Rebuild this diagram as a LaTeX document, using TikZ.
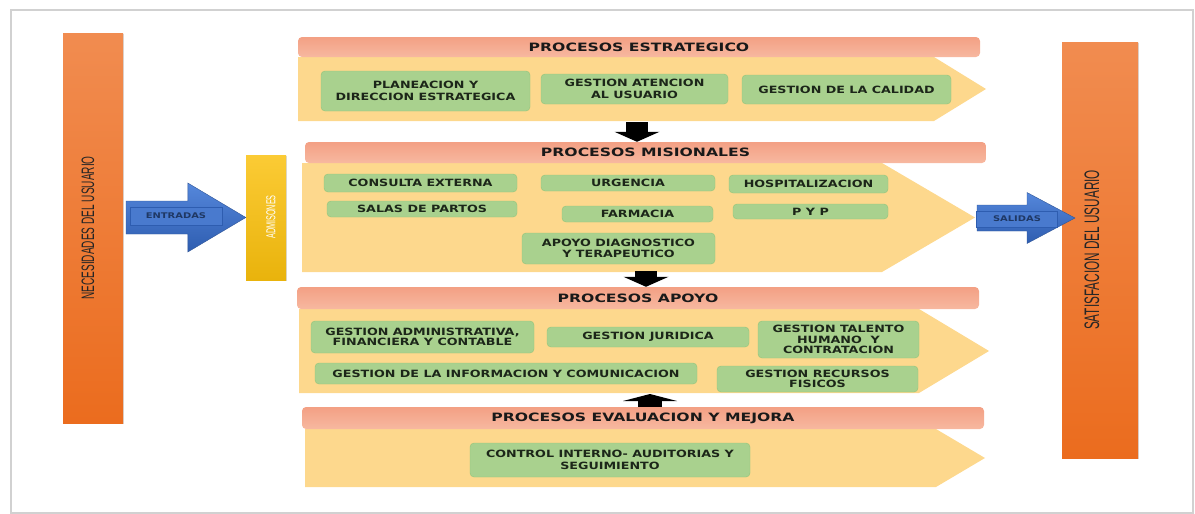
\documentclass[tikz,border=0pt]{standalone}
\usepackage{fontspec}
\usetikzlibrary{calc,arrows.meta,shadows}
\newfontfamily\cajafont{DejaVu Sans}[FakeStretch=1.27]
\newfontfamily\cabfont{DejaVu Sans}[FakeStretch=1.36]
\newfontfamily\barrafont{Liberation Sans}[FakeStretch=0.56]
\definecolor{verde}{HTML}{A9D18E}
\definecolor{verdeborde}{HTML}{93C47A}
\definecolor{textoverde}{HTML}{1C2619}
\definecolor{amarillo}{HTML}{FDD88D}
\definecolor{salmonA}{HTML}{F3A084}
\definecolor{salmonB}{HTML}{F7B8A0}
\definecolor{naranjaA}{HTML}{F18C50}
\definecolor{naranjaB}{HTML}{EB6C1E}
\definecolor{oroA}{HTML}{FBCB35}
\definecolor{oroB}{HTML}{E9B30C}
\definecolor{azulA}{HTML}{5587DB}
\definecolor{azulB}{HTML}{2E5DB0}
\definecolor{azulborde}{HTML}{2F5597}
\definecolor{azultexto}{HTML}{1F3864}
\def\bloque[#1](#2)(#3,#4)(#5,#6)#7{\node[#1, minimum width={(#5-#3)*1pt}, minimum height={(#6-#4)*1pt}] (#2) at ({(#3+#5)/2},{(#4+#6)/2}) {#7};}
\def\cuerpo(#1,#2)(#3,#4)(#5){\fill[amarillo] (#1,#2) -- (#3,#2) -- (#5,{(#2+#4)/2}) -- (#3,#4) -- (#1,#4) -- cycle;}
\def\flechaazul(#1)(#2)#3#4#5{\shade[flechabloque] let \p1=(#1), \p2=(#2) in (\x1,{\y2+#3}) -- ({\x2-#5},{\y2+#3}) -- ({\x2-#5},{\y2+#4}) -- (\x2,\y2) -- ({\x2-#5},{\y2-#4}) -- ({\x2-#5},{\y2-#3}) -- (\x1,{\y2-#3}) -- cycle;}
\tikzset{
	caja/.style={draw=verdeborde, fill=verde, rounded corners=4pt, inner sep=1pt, align=center, text=textoverde, font=\cajafont\bfseries\fontsize{10}{10.5}\selectfont},
	interlinea/.style={font=\cajafont\bfseries\fontsize{10}{12.5}\selectfont},
	cabecera/.style={rounded corners=4pt, top color=salmonA, bottom color=salmonB, inner sep=0pt, text=black!90, font=\cabfont\bfseries\fontsize{11.5}{12}\selectfont},
	barra/.style={top color=naranjaA, bottom color=naranjaB, inner sep=0pt, drop shadow={shadow xshift=1.2pt, shadow yshift=-1.2pt, opacity=0.3}},
	barraoro/.style={top color=oroA, bottom color=oroB, inner sep=0pt, drop shadow={shadow xshift=1.2pt, shadow yshift=-1.2pt, opacity=0.3}},
	textobarra/.style={inner sep=0pt, text=black!85, font=\barrafont\fontsize{18}{19}\selectfont},
	flechabloque/.style={top color=azulA, bottom color=azulB, draw=azulborde, line width=0.4pt},
	etiqueta/.style={fill=azulA!70!azulB, draw=azulB, line width=0.4pt, inner sep=0pt, text=azultexto, font=\cajafont\bfseries\fontsize{7.8}{8}\selectfont},
	negra/.style={black, line width=22pt, -{Triangle[width=45pt, length=10pt, line width=0pt]}},
	marco/.style={draw=black!18, line width=1.5pt}
}
\begin{document}
\begin{tikzpicture}[x=1pt, y=-1pt]
			%%%%% START %%%%%
			\useasboundingbox (0,0) rectangle (1195,514);
			\draw[marco] (11,10) rectangle (1193,513);
			
			\bloque[barra](nec)(63,33)(123,423){}
			\node[textobarra, rotate=90] (necT) at (88,228) {NECESIDADES DEL USUARIO};
			\bloque[barra](sat)(1062,42)(1138,458){}
			\node[textobarra, rotate=90, font=\barrafont\fontsize{21}{22}\selectfont] (satT) at (1092,250) {SATISFACION DEL USUARIO};
			\bloque[barraoro](adm)(246,155)(286,280){}
			\node[textobarra, rotate=90, text=white, font=\barrafont\fontsize{13}{14}\selectfont] (admT) at (271,217) {ADMISONES};
			
			\cuerpo(298,57)(934,121)(986)
			\cuerpo(302,163)(882,272)(975)
			\cuerpo(299,309)(919,393)(989)
			\cuerpo(305,429)(936,487)(985)
			
			\bloque[cabecera](est)(298,37)(980,57){PROCESOS ESTRATEGICO}
			\bloque[cabecera](mis)(305,142)(986,163){PROCESOS MISIONALES}
			\bloque[cabecera](apo)(297,287)(979,309){PROCESOS APOYO}
			\bloque[cabecera](eva)(302,407)(984,429){PROCESOS EVALUACION Y MEJORA}
			
			\bloque[caja, interlinea](pla)(321,71)(530,111){PLANEACION Y\\DIRECCION ESTRATEGICA}
			\bloque[caja, interlinea](ate)(541,74)(728,104){GESTION ATENCION\\AL USUARIO}
			\bloque[caja](cal)(742,75)(951,104){GESTION DE LA CALIDAD}
			
			\bloque[caja](con)(324,174)(517,192){CONSULTA EXTERNA}
			\bloque[caja](par)(327,201)(517,217){SALAS DE PARTOS}
			\bloque[caja](urg)(541,175)(715,191){URGENCIA}
			\bloque[caja](far)(562,206)(713,222){FARMACIA}
			\bloque[caja](apd)(522,233)(715,264){APOYO DIAGNOSTICO\\Y TERAPEUTICO}
			\bloque[caja](hos)(729,175)(888,193){HOSPITALIZACION}
			\bloque[caja](pyp)(733,204)(888,219){P Y P}
			
			\bloque[caja](gad)(311,321)(534,353){GESTION ADMINISTRATIVA,\\FINANCIERA Y CONTABLE}
			\bloque[caja](jur)(547,327)(749,347){GESTION JURIDICA}
			\bloque[caja](tal)(758,321)(919,358){GESTION TALENTO\\HUMANO~ Y\\CONTRATACION}
			\bloque[caja](inf)(315,363)(697,384){GESTION DE LA INFORMACION Y COMUNICACION}
			\bloque[caja](rec)(717,366)(918,392){GESTION RECURSOS\\FISICOS}
			
			\bloque[caja, interlinea](ctl)(470,443)(750,477){CONTROL INTERNO- AUDITORIAS Y\\SEGUIMIENTO}
			
			\coordinate (n1) at (637,122);
			\coordinate (n2) at (646,271);
			\coordinate (n3) at (650,394);
			\draw[negra] (n1) -- (n1 |- mis.north);
			\draw[negra] (n2) -- (n2 |- apo.north);
			\draw[negra, line width=24pt, -{Triangle[width=54pt, length=7pt, line width=0pt]}] (n3 |- eva.north) -- (n3);
			
			\coordinate (ent) at (126,216);
			\flechaazul(ent)(adm.west){16.5pt}{34.5pt}{58pt}
			\node[etiqueta, minimum width=92, minimum height=18] (entradas) at (176,216) {ENTRADAS};
			
			\coordinate (sal) at (977,218);
			\coordinate (salfin) at (1075,218);
			\flechaazul(sal)(salfin){13pt}{25.5pt}{48pt}
			\node[etiqueta, minimum width=81, minimum height=16] (salidas) at (1017,219) {SALIDAS};
			%%%%% END %%%%%
\end{tikzpicture}
\end{document}
